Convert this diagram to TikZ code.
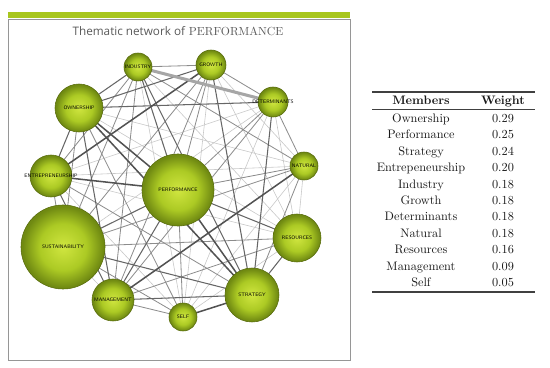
\documentclass[tikz,border=0pt]{standalone}
\usepackage{fontspec}
\newfontfamily\titlefont{Open Sans}
\usetikzlibrary{positioning,calc,backgrounds}
\definecolor{BarGreen}{RGB}{168,198,30}
\definecolor{BubLight}{RGB}{208,230,64}
\definecolor{BubMid}{RGB}{172,202,36}
\definecolor{BubDark}{RGB}{112,138,18}
\definecolor{BubRim}{RGB}{88,108,12}
\definecolor{FrameGray}{RGB}{150,150,150}
\pgfdeclareradialshading{bubshade}{\pgfpoint{0bp}{0bp}}{color(0bp)=(BubLight);
  color(14bp)=(BubMid); color(24bp)=(BubDark); color(50bp)=(BubDark)}
\tikzset{
  bub/.style={circle,inner sep=0pt,minimum size=#1*0.6mm,draw=BubRim,line width=0.5pt,
    shading=bubshade},
  tag/.style={font=\sffamily\fontsize{4.3}{4.3}\selectfont,text=black,inner sep=0pt},
  lite/.style={draw=black!22,line width=0.5pt},
  midw/.style={draw=black!45,line width=0.7pt},
  dark/.style={draw=black!60,line width=0.9pt},
  heavy/.style={draw=black!68,line width=1.3pt},
  broad/.style={draw=black!35,line width=2.6pt},
  cell/.style={font=\fontsize{10.5}{12}\selectfont,inner sep=0pt,anchor=base,text=black!90},
}
\begin{document}
\begin{tikzpicture}[x=0.03cm,y=-0.03cm]
  \useasboundingbox (0,0) rectangle (550,368);
  % frame and title
  \fill[BarGreen] (8,12.5) rectangle (350,18.5);
  \draw[FrameGray] (8,19) rectangle (350,360);
  \node[text=black!65,font=\fontsize{10}{12}\selectfont] (title) at (178,31)
    {{\titlefont Thematic network of} PERFORMANCE};

  % bubbles
  \node[bub=14,label={[tag]center:INDUSTRY}] (ind) at (138,67) {};
  \node[bub=15,label={[tag]center:GROWTH}] (gro) at (211,65) {};
  \node[bub=15,label={[tag]center:DETERMINANTS}] (det) at (273,102) {};
  \node[bub=24,label={[tag]center:OWNERSHIP}] (own) at (79,108) {};
  \node[bub=14,label={[tag]center:NATURAL}] (nat) at (304,166) {};
  \node[bub=21,label={[tag]center:ENTREPRENEURSHIP}] (ent) at (51,176) {};
  \node[bub=36,label={[tag]center:PERFORMANCE}] (per) at (178,190) {};
  \node[bub=42,label={[tag]center:SUSTAINABILITY}] (sus) at (63,247) {};
  \node[bub=24,label={[tag]center:RESOURCES}] (res) at (297,238) {};
  \node[bub=27,label={[tag]center:STRATEGY}] (str) at (252,295) {};
  \node[bub=21,label={[tag]center:MANAGEMENT}] (man) at (113,300) {};
  \node[bub=14,label={[tag]center:SELF}] (slf) at (183,317) {};

  % links, behind the bubbles
  \begin{scope}[on background layer]
  \foreach \a/\b in {own/nat,own/res,ind/res,ind/slf,gro/nat,gro/res,gro/slf,det/ent,det/sus,
      det/res,det/slf,nat/ent,nat/res,nat/slf,ent/res,ent/slf,res/slf,sus/man}
    \draw[lite] (\a.center) -- (\b.center);
  \foreach \a/\b in {own/sus,own/slf,ind/gro,ind/nat,ind/ent,ind/sus,ind/man,gro/det,gro/per,
      gro/sus,gro/man,det/nat,det/per,det/man,nat/per,nat/sus,nat/str,ent/sus,ent/str,per/slf,
      sus/res,sus/slf,res/man,man/slf}
    \draw[midw] (\a.center) -- (\b.center);
  \foreach \a/\b in {own/ind,own/gro,own/det,own/ent,own/man,ind/per,ind/str,gro/str,det/str,
      ent/man,per/sus,per/res,per/man,sus/str,res/str,str/man}
    \draw[dark] (\a.center) -- (\b.center);
  \foreach \a/\b in {own/per,own/str,gro/ent,nat/man,ent/per,per/str,str/slf}
    \draw[heavy] (\a.center) -- (\b.center);
  \draw[broad] (ind.center) -- (det.center);
  \end{scope}

  % table
  \draw[black!75,line width=0.9pt] (372,92) -- (535,92);
  \draw[black!75,line width=0.5pt] (372,109.5) -- (535,109.5);
  \draw[black!75,line width=0.9pt] (372,292) -- (535,292);
  \node[cell] (mhead) at (421,105) {\bfseries Members};
  \node[cell] (whead) at (503,105) {\bfseries Weight};
  \foreach \name/\val [count=\i] in {Ownership/0.29,Performance/0.25,Strategy/0.24,
      Entrepeneurship/0.20,Industry/0.18,Growth/0.18,Determinants/0.18,Natural/0.18,
      Resources/0.16,Management/0.09,Self/0.05} {
    \node[cell] (m\i) at (421,{122.5+16.4*(\i-1)}) {\name};
    \node[cell] (w\i) at (503,{122.5+16.4*(\i-1)}) {\val};
  }
\end{tikzpicture}
\end{document}
